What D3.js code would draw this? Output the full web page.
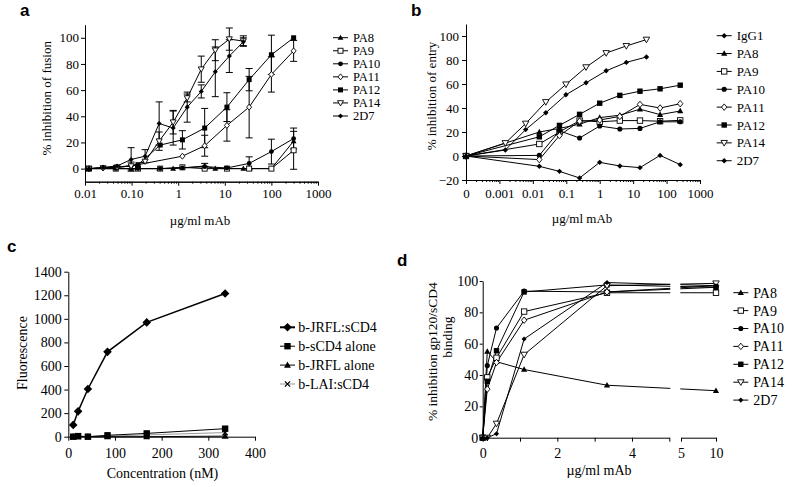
<!DOCTYPE html>
<html><head><meta charset="utf-8">
<script src="https://cdn.jsdelivr.net/npm/d3@7"></script>
<style>body{margin:0;background:#fff}</style>
</head><body>
<svg id="c" width="793" height="487" xmlns="http://www.w3.org/2000/svg"></svg>
<script>
// ================= DATA =================
// Panel a : % inhibition of fusion
const aNames = ["PA8","PA9","PA10","PA11","PA12","PA14","2D7"];
const aX2 = [0.0122,0.0244,0.0488,0.0977,0.195,0.39,0.78,1.56,3.125,6.25,12.5,25];
const aX3 = [0.0122,0.0457,0.137,0.41,1.23,3.7,11.1,33.3,100,300];
const aX_PA8 = [0.0122,0.098,0.39,0.78,3.7,6.25,25,100,300];
const aX_PA11 = [0.0122,0.0244,0.0488,0.0977,1.23,3.7,11.1,33.3,100,300];
const aY_PA8  = [0,0,0,0,2,0,0,0,21];
const aE_PA8  = [0,0,0,0,2,0,0,0,0];
const aY_PA9  = [0,0,0,0,1,0,0,0,0,14];
const aE_PA9  = [0,0,0,0,0,0,0,0,0,14.5];
const aY_PA10 = [0,0,0,0,0.5,1.5,0.5,4,13,23];
const aE_PA10 = [0,0,0,0,0,0,0,5,9.5,8];
const aY_PA11 = [0,0.5,1,2,9.5,17.5,33,47,72,90];
const aE_PA11 = [0,0,0,3,0,8,12,23.5,13.5,8];
const aY_PA12 = [0,1,3,18,22,31,47,68,87,100];
const aE_PA12 = [0,0,0,0,7,15,11,8.5,15,0];
const aY_PA14 = [0,0.5,1,2,5.5,21,35.5,54,76,90.5,99,97.5];
const aE_PA14 = [0,0,0,0,0,7,9,3,10,8,8.5,4];
const aY_2D7  = [0,1,2,7,9.5,34.5,31,47,59,74,86,97];
const aE_2D7  = [0,0,0,9,5,16.5,13,11.5,5,19,12.5,3];
const aTickVals = [0.01,0.1,1,10,100,1000];
const aTickLabels = ["0.01","0.10","1","10","100","1000"];

// Panel b : % inhibition of entry
const bNames = ["IgG1","PA8","PA9","PA10","PA11","PA12","PA14","2D7"];
const bX4  = [0.0001,0.0156,0.0625,0.25,1,4,16,64,256];
const bX25 = [0.0001,0.0015,0.0061,0.0244,0.0977,0.39,1.56,6.25,25];
const bY_IgG1 = [0,-8.6,-12.8,-18.3,-5.3,-8.3,-9.7,0.5,-7.2];
const bY_PA8  = [0,20,23,26.5,32,34,39,34.5,37.5];
const bY_PA9  = [0,10,20,29.5,28.5,29.5,29.5,29,29.7];
const bY_PA10 = [0,0.5,21,15,25,22.5,23,28.5,28.5];
const bY_PA11 = [0,-3,17,29,30,33,43,40,43.6];
const bY_PA12 = [0,16,25.5,34.7,44,50.5,54,56,59];
const bY_PA14 = [0,10.8,27,45,59.7,74,85.8,91.7,97];
const bY_2D7  = [0,5,22,36,51,61,71,78,82.5];
const bTickVals = [0.0001,0.001,0.01,0.1,1,10,100,1000];
const bTickLabels = ["0","0.001","0.01","0.1","1","10","100","1000"];

// Panel c : Fluorescence vs concentration
const cNames = ["b-JRFL:sCD4","b-sCD4 alone","b-JRFL alone","b-LAI:sCD4"];
const cX = [10.5,21,42,84,168,336];
const cY_JRFLsCD4 = [100,215,405,720,970,1215];
const cY_sCD4     = [0,5,0,12,28,68];
const cY_JRFL     = [0,0,0,0,0,5];
const cY_LAIsCD4  = [0,3,2,5,15,35];
const cXTicks = [0,100,200,300,400];
const cYTicks = [0,200,400,600,800,1000,1200,1400];

// Panel d : % inhibition gp120/sCD4 binding
const dNames = ["PA8","PA9","PA10","PA11","PA12","PA14","2D7"];
const dX = [0,0.123,0.37,1.11,3.33,10];
const dY_PA8  = [0,55,48.5,43.5,33.5,30];
const dY_PA9  = [0,38.5,51,80.5,92.5,92.5];
const dY_PA10 = [0,46,70,93.5,93,96];
const dY_PA11 = [0,31,48,75,93,97];
const dY_PA12 = [0,36,55.5,93,97.5,96];
const dY_PA14 = [0,0,9,53,97,98.5];
const dY_2D7  = [0,0,2.5,63,99,97];

// ================= STYLE =================
const SERIF = "'Liberation Serif', 'Times New Roman', serif";
const SANS = "'Liberation Sans', Arial, sans-serif";
const mkType = {"IgG1":"diaS","PA8":"triF","PA9":"sqO","PA10":"circF","PA11":"diaO","PA12":"sqF","PA14":"triDO","2D7":"diaS"};
const fmtInt = d3.format("d");

const svg = d3.select("#c");

function mk(g, type, x, y, s){
  switch(type){
    case "triF": g.append("path").attr("d",`M${x},${y-s*1.2}L${x+s*1.15},${y+s*0.85}L${x-s*1.15},${y+s*0.85}Z`).attr("fill","#000"); break;
    case "triDO": g.append("path").attr("d",`M${x-s*1.2},${y-s*0.9}L${x+s*1.2},${y-s*0.9}L${x},${y+s*1.2}Z`).attr("fill","#fff").attr("stroke","#000").attr("stroke-width",0.9); break;
    case "sqF": g.append("rect").attr("x",x-s).attr("y",y-s).attr("width",2*s).attr("height",2*s).attr("fill","#000"); break;
    case "sqO": g.append("rect").attr("x",x-s).attr("y",y-s).attr("width",2*s).attr("height",2*s).attr("fill","#fff").attr("stroke","#000").attr("stroke-width",0.9); break;
    case "circF": g.append("circle").attr("cx",x).attr("cy",y).attr("r",s*0.95).attr("fill","#000"); break;
    case "diaO": g.append("path").attr("d",`M${x},${y-s*1.2}L${x+s},${y}L${x},${y+s*1.2}L${x-s},${y}Z`).attr("fill","#fff").attr("stroke","#000").attr("stroke-width",0.9); break;
    case "diaF": g.append("path").attr("d",`M${x},${y-s*1.3}L${x+s*1.3},${y}L${x},${y+s*1.3}L${x-s*1.3},${y}Z`).attr("fill","#000"); break;
    case "diaS": g.append("path").attr("d",`M${x},${y-s*0.85}L${x+s*0.85},${y}L${x},${y+s*0.85}L${x-s*0.85},${y}Z`).attr("fill","#000"); break;
    case "x": g.append("path").attr("d",`M${x-s},${y-s}L${x+s},${y+s}M${x-s},${y+s}L${x+s},${y-s}`).attr("stroke","#000").attr("stroke-width",1.3); break;
  }
}
function styleAxis(g, fs){
  g.attr("font-family",SERIF).attr("font-size",fs);
  g.selectAll("text").attr("fill","#000");
  g.selectAll("path.domain").attr("stroke","#000").attr("stroke-width",1);
  g.selectAll("line").attr("stroke","#000").attr("stroke-width",1);
}
function minorLog(lo, hi){
  const out=[];
  for(let e=Math.floor(Math.log10(lo)); e<Math.log10(hi); e++)
    for(let k=2;k<=9;k++){ const v=k*Math.pow(10,e); if(v>lo && v<hi) out.push(v); }
  return out;
}
function txt(x,y,s,fs,opts={}){
  const t = svg.append("text").attr("x",x).attr("y",y).text(s)
    .attr("font-family",opts.family||SERIF).attr("font-size",fs).attr("fill","#000");
  if(opts.anchor) t.attr("text-anchor",opts.anchor);
  if(opts.weight) t.attr("font-weight",opts.weight);
  if(opts.rot) t.attr("transform",`rotate(-90,${x},${y})`);
  if(opts.dy) t.attr("dy",opts.dy);
  return t;
}
function drawSeries(g, xs, ys, sx, sy, type, s, width, color){
  const pts = xs.map((x,i)=>[sx(x), sy(ys[i])]);
  g.append("path").attr("d", d3.line()(pts)).attr("fill","none").attr("stroke",color||"#000").attr("stroke-width",width||1);
  pts.forEach(p=>mk(g,type,p[0],p[1],s));
}
function drawErr(g, xs, ys, es, sx, sy){
  xs.forEach((x,i)=>{
    if(!es[i]) return;
    const px=sx(x), y1=sy(ys[i]-es[i]), y2=sy(ys[i]+es[i]);
    g.append("path").attr("d",`M${px},${y1}V${y2}M${px-3.5},${y1}H${px+3.5}M${px-3.5},${y2}H${px+3.5}`)
      .attr("stroke","#000").attr("stroke-width",1).attr("fill","none");
  });
}

// ================= PANEL A =================
{
  const x = d3.scaleLog().domain([0.01,1000]).range([85,318]);
  const y = d3.scaleLinear().domain([-10,110]).range([181.7,24.7]);
  const g = svg.append("g");
  const series = [
    {n:"PA8", xs:aX_PA8, ys:aY_PA8, es:aE_PA8},
    {n:"PA9", xs:aX3, ys:aY_PA9, es:aE_PA9},
    {n:"PA10", xs:aX3, ys:aY_PA10, es:aE_PA10},
    {n:"PA11", xs:aX_PA11, ys:aY_PA11, es:aE_PA11},
    {n:"PA12", xs:aX3, ys:aY_PA12, es:aE_PA12},
    {n:"PA14", xs:aX2, ys:aY_PA14, es:aE_PA14},
    {n:"2D7", xs:aX2, ys:aY_2D7, es:aE_2D7}
  ];
  series.forEach(s=>drawErr(g,s.xs,s.ys,s.es,x,y));
  series.forEach(s=>drawSeries(g,s.xs,s.ys,x,y,mkType[s.n],s.n==="2D7"?3:2.5,1));
  const xa = svg.append("g").attr("transform","translate(0,181.7)")
    .call(d3.axisBottom(x).tickValues(aTickVals).tickFormat((d,i)=>aTickLabels[i]).tickSize(4).tickPadding(3).tickSizeOuter(0));
  styleAxis(xa,13);
  const xm = svg.append("g").attr("transform","translate(0,181.7)")
    .call(d3.axisBottom(x).tickValues(minorLog(0.01,1000)).tickFormat("").tickSize(2).tickSizeOuter(0));
  styleAxis(xm,13);
  const ya = svg.append("g").attr("transform","translate(85,0)")
    .call(d3.axisLeft(y).tickValues([0,20,40,60,80,100]).tickSize(4).tickPadding(2).tickSizeOuter(0));
  styleAxis(ya,13);
  txt(200,224.5,"µg/ml mAb",13,{anchor:"middle"});
  txt(46.7,98.3,"% inhibition of fusion",13,{anchor:"middle",rot:true,dy:"0.35em"});
  txt(20,15.5,"a",17,{family:SANS,weight:"bold"});
  aNames.forEach((n,i)=>{
    const yy = 37.7 + i*13.05;
    svg.append("line").attr("x1",333).attr("x2",348).attr("y1",yy).attr("y2",yy).attr("stroke","#000");
    mk(svg, mkType[n], 340.5, yy, n==="2D7"?3:2.5);
    txt(353,yy,n,12.5,{dy:"0.35em"});
  });
}

// ================= PANEL B =================
{
  const x = d3.scaleLog().domain([0.0001,1000]).range([466,700]);
  const y = d3.scaleLinear().domain([-20,110]).range([180,24]);
  const g = svg.append("g");
  const series = [
    {n:"IgG1", xs:bX4, ys:bY_IgG1},
    {n:"PA8", xs:bX4, ys:bY_PA8},
    {n:"PA9", xs:bX4, ys:bY_PA9},
    {n:"PA10", xs:bX4, ys:bY_PA10},
    {n:"PA11", xs:bX4, ys:bY_PA11},
    {n:"PA12", xs:bX4, ys:bY_PA12},
    {n:"PA14", xs:bX25, ys:bY_PA14},
    {n:"2D7", xs:bX25, ys:bY_2D7}
  ];
  series.forEach(s=>drawSeries(g,s.xs,s.ys,x,y,mkType[s.n],(s.n==="2D7"||s.n==="IgG1")?3.2:2.7,1));
  const xa = svg.append("g").attr("transform","translate(0,180)")
    .call(d3.axisBottom(x).tickValues(bTickVals).tickFormat((d,i)=>bTickLabels[i]).tickSize(4).tickPadding(4.5).tickSizeOuter(0));
  styleAxis(xa,13);
  const xm = svg.append("g").attr("transform","translate(0,180)")
    .call(d3.axisBottom(x).tickValues(minorLog(0.0001,1000)).tickFormat("").tickSize(2).tickSizeOuter(0));
  styleAxis(xm,13);
  const ya = svg.append("g").attr("transform","translate(466,0)")
    .call(d3.axisLeft(y).tickValues([-20,0,20,40,60,80,100]).tickSize(4).tickPadding(3).tickSizeOuter(0));
  styleAxis(ya,13);
  txt(582,222.5,"µg/ml mAb",13,{anchor:"middle"});
  txt(431.7,96,"% inhibition of entry",13,{anchor:"middle",rot:true,dy:"0.35em"});
  txt(411,15.5,"b",17,{family:SANS,weight:"bold"});
  bNames.forEach((n,i)=>{
    const yy = 35.7 + i*17.86;
    svg.append("line").attr("x1",716.7).attr("x2",731.7).attr("y1",yy).attr("y2",yy).attr("stroke","#000");
    mk(svg, mkType[n], 724.2, yy, (n==="2D7"||n==="IgG1")?3.2:2.7);
    txt(736.7,yy,n,13,{dy:"0.35em"});
  });
}

// ================= PANEL C =================
{
  const x = d3.scaleLinear().domain([0,400]).range([68.3,255]);
  const y = d3.scaleLinear().domain([0,1400]).range([436.7,271.7]);
  const g = svg.append("g");
  const series = [
    {ys:cY_LAIsCD4, t:"x", s:2.6, w:1, c:"#999"},
    {ys:cY_JRFL, t:"triF", s:3, w:1, c:"#000"},
    {ys:cY_sCD4, t:"sqF", s:3.2, w:1, c:"#000"},
    {ys:cY_JRFLsCD4, t:"diaF", s:3.3, w:1.5, c:"#000"}
  ];
  series.forEach(s=>drawSeries(g,cX,s.ys,x,y,s.t,s.s,s.w,s.c));
  const xa = svg.append("g").attr("transform","translate(0,436.7)")
    .call(d3.axisBottom(x).tickValues(cXTicks).tickFormat(fmtInt).tickSize(4).tickPadding(7).tickSizeOuter(0));
  styleAxis(xa,14);
  const ya = svg.append("g").attr("transform","translate(68.3,0)")
    .call(d3.axisLeft(y).tickValues(cYTicks).tickFormat(fmtInt).tickSize(4).tickPadding(2.5).tickSizeOuter(0));
  styleAxis(ya,14);
  txt(162.5,477.5,"Concentration (nM)",14,{anchor:"middle"});
  txt(21.7,353,"Fluorescence",14,{anchor:"middle",rot:true,dy:"0.35em"});
  txt(7,252,"c",17,{family:SANS,weight:"bold"});
  const leg = [{t:"diaF",s:3.3,w:2,c:"#000"},{t:"sqF",s:3.2,w:1,c:"#000"},{t:"triF",s:3,w:1,c:"#000"},{t:"x",s:2.6,w:1,c:"#999"}];
  cNames.forEach((n,i)=>{
    const yy = 327.3 + i*18.9;
    svg.append("line").attr("x1",280).attr("x2",295).attr("y1",yy).attr("y2",yy).attr("stroke",leg[i].c).attr("stroke-width",leg[i].w);
    mk(svg, leg[i].t, 287.5, yy, leg[i].s);
    txt(298.3,yy,n,14,{dy:"0.35em"});
  });
}

// ================= PANEL D =================
{
  const xA = d3.scaleLinear().domain([0,5]).range([482.7,669.3]);
  const xB = d3.scaleLinear().domain([5,10]).range([681,716]);
  const x = v => v<=5 ? xA(v) : xB(v);
  const y = d3.scaleLinear().domain([0,100]).range([437.7,281]);
  const g = svg.append("g");
  const series = [
    {n:"PA8", ys:dY_PA8},{n:"PA9", ys:dY_PA9},{n:"PA10", ys:dY_PA10},{n:"PA11", ys:dY_PA11},
    {n:"PA12", ys:dY_PA12},{n:"PA14", ys:dY_PA14},{n:"2D7", ys:dY_2D7}
  ];
  series.forEach(s=>{
    const pts = dX.map((v,i)=>[x(v), y(s.ys[i])]);
    g.append("path").attr("d", d3.line()(pts)).attr("fill","none").attr("stroke","#000").attr("stroke-width",1);
  });
  // axis break gap
  g.append("rect").attr("x",670.3).attr("y",270).attr("width",10).attr("height",175).attr("fill","#fff");
  series.forEach(s=>{
    dX.forEach((v,i)=>mk(g, mkType[s.n], x(v), y(s.ys[i]), s.n==="2D7"?3:2.7));
  });
  const xa1 = svg.append("g").attr("transform","translate(0,437.7)")
    .call(d3.axisBottom(xA).tickValues([0,1,2,3,4,5]).tickFormat(d=>(d%2===0&&d<5)?fmtInt(d):"").tickSize(4).tickPadding(6).tickSizeOuter(0));
  styleAxis(xa1,14);
  const xa2 = svg.append("g").attr("transform","translate(0,437.7)")
    .call(d3.axisBottom(xB).tickValues([5,10]).tickFormat(fmtInt).tickSize(4).tickPadding(6).tickSizeOuter(0));
  styleAxis(xa2,14);
  const ya = svg.append("g").attr("transform","translate(482.7,0)")
    .call(d3.axisLeft(y).tickValues([0,20,40,60,80,100]).tickSize(3).tickPadding(1.5).tickSizeOuter(0));
  styleAxis(ya,14);
  txt(599,474.5,"µg/ml mAb",14,{anchor:"middle"});
  txt(432.5,351.7,"% inhibition gp120/sCD4",13.5,{anchor:"middle",rot:true,dy:"0.35em"});
  txt(447,337,"binding",13.5,{anchor:"middle",rot:true,dy:"0.35em"});
  txt(397,266,"d",17,{family:SANS,weight:"bold"});
  dNames.forEach((n,i)=>{
    const yy = 292.7 + i*17.9;
    svg.append("line").attr("x1",733.3).attr("x2",748.3).attr("y1",yy).attr("y2",yy).attr("stroke","#000");
    mk(svg, mkType[n], 740.8, yy, n==="2D7"?3:2.7);
    txt(753.3,yy,n,14,{dy:"0.35em"});
  });
}
</script>
</body></html>
